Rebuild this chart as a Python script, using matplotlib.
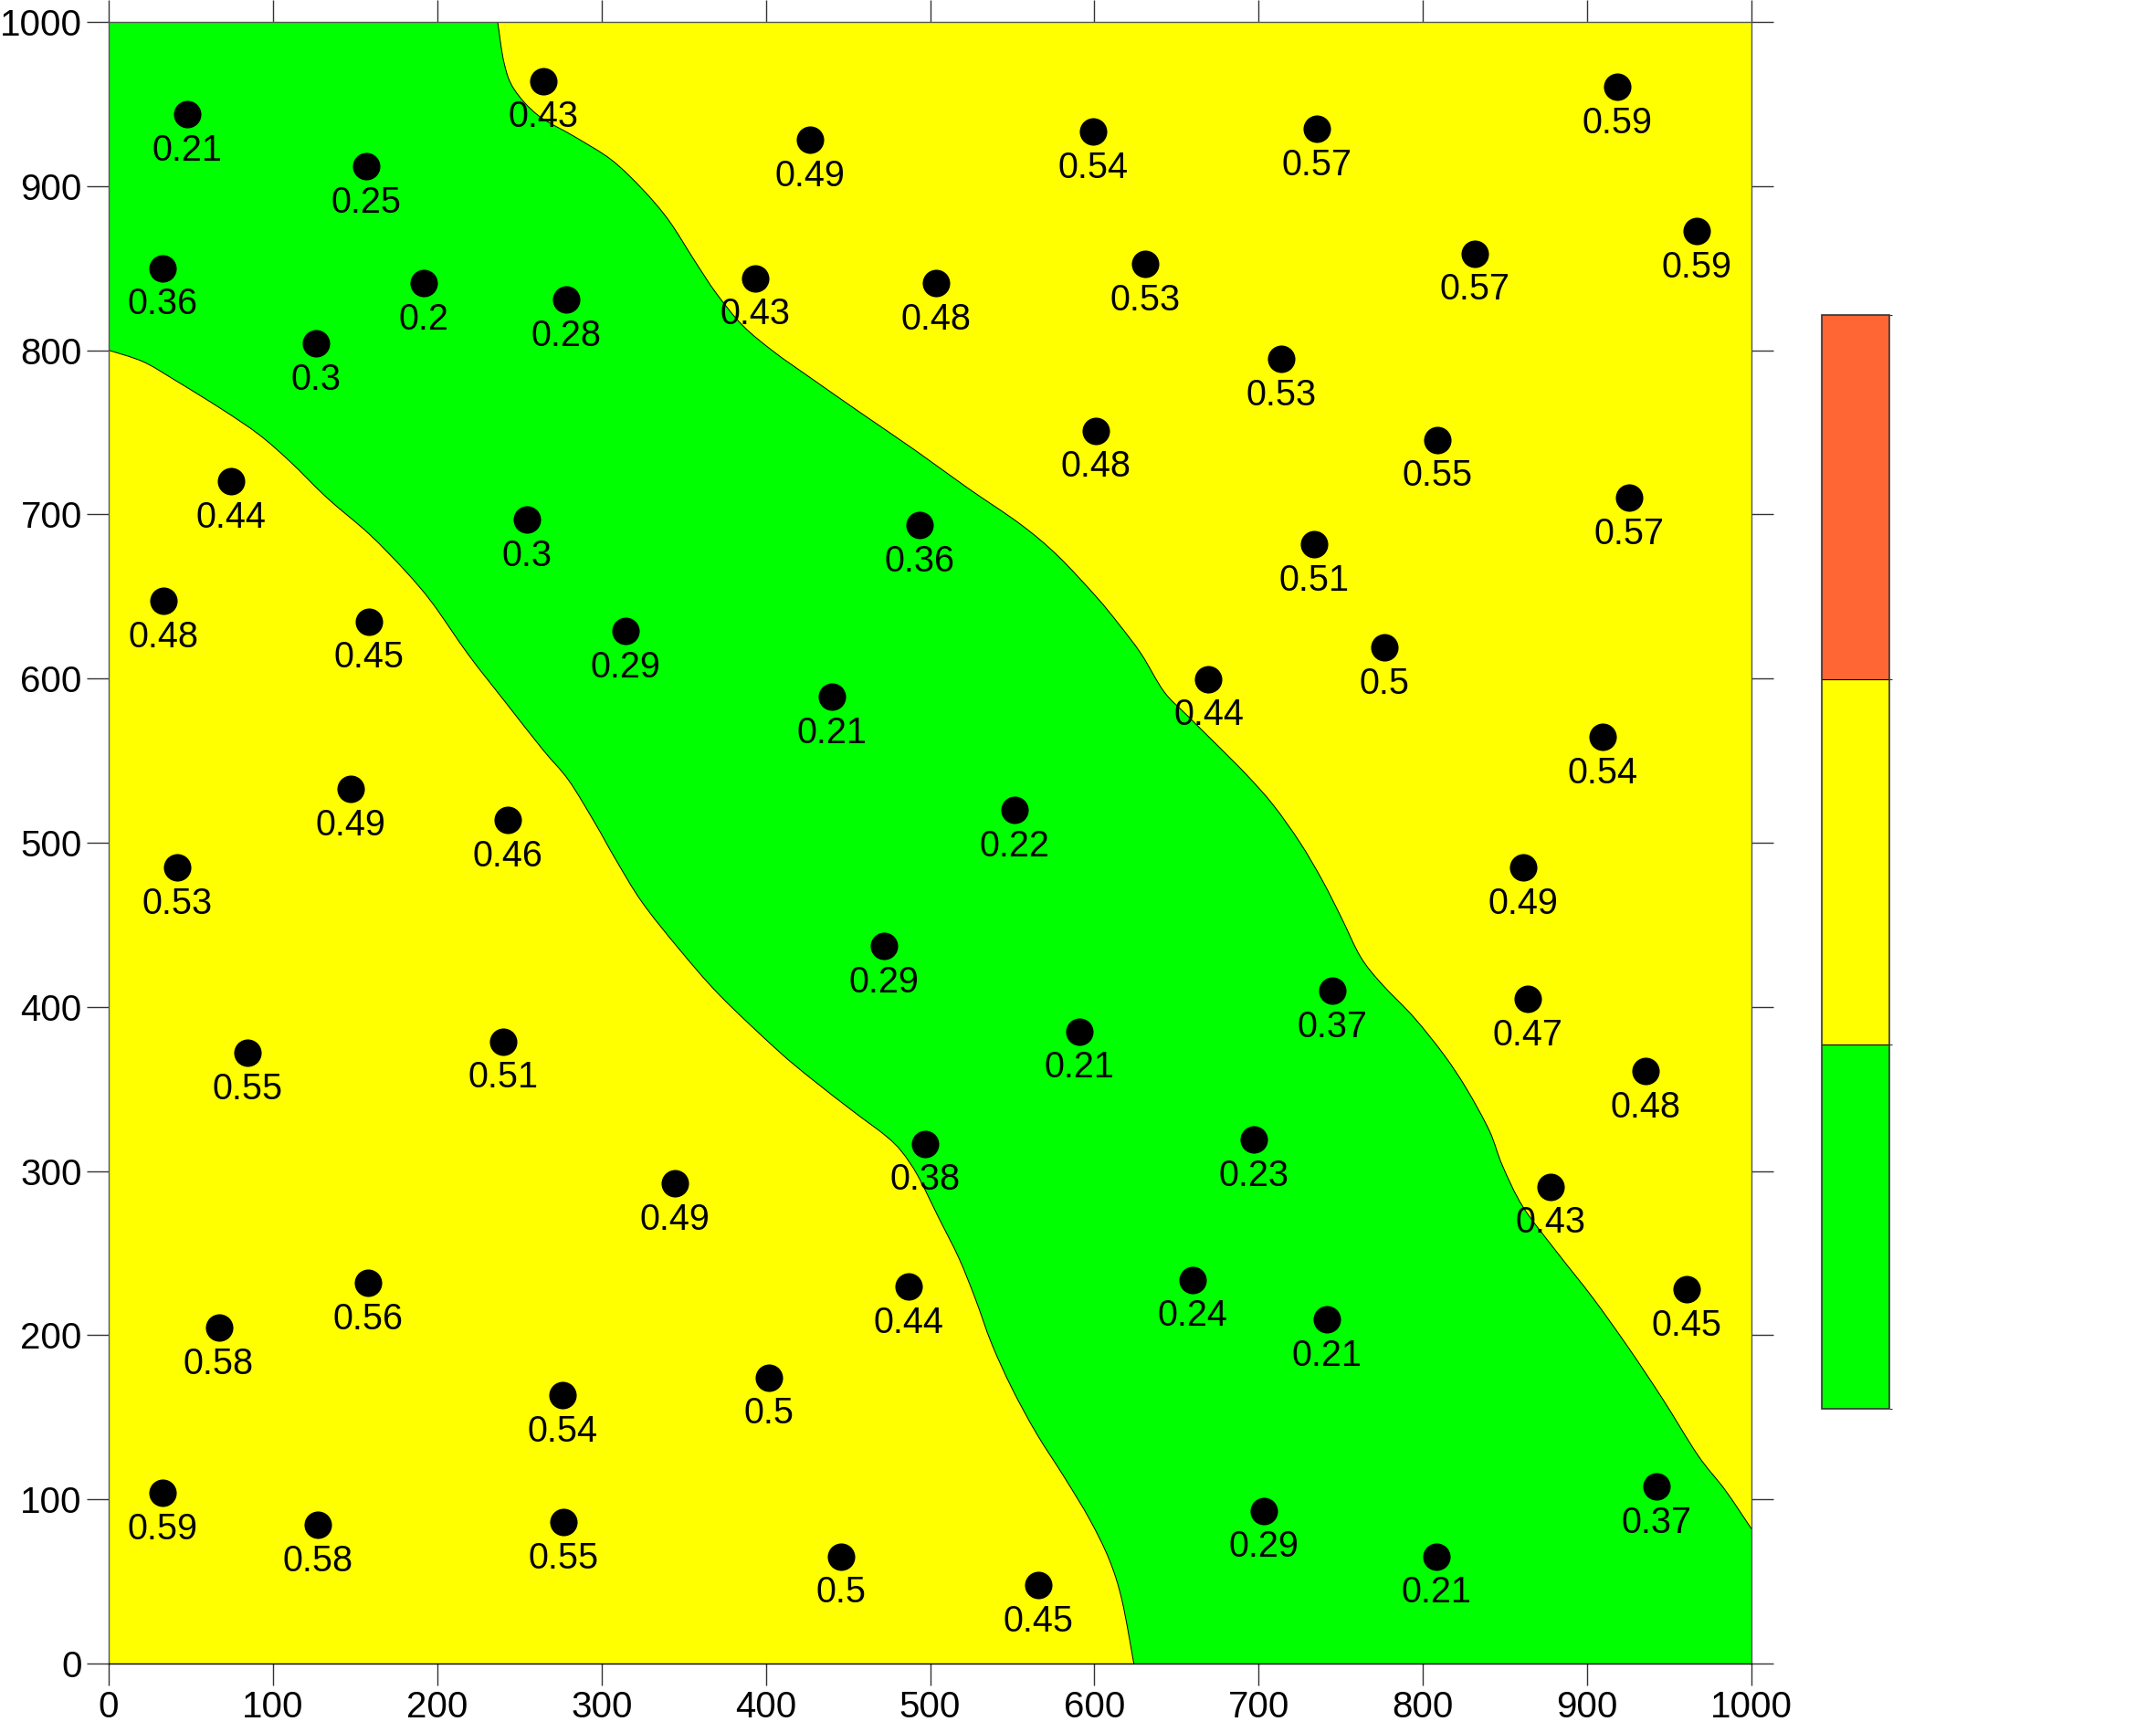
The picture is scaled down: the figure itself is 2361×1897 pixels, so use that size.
import matplotlib
matplotlib.use('Agg')
import matplotlib.pyplot as plt
from matplotlib.colors import ListedColormap, BoundaryNorm
from matplotlib.colorbar import ColorbarBase
from matplotlib.path import Path
from matplotlib.patches import PathPatch
import numpy as np

plt.rcParams['font.family'] = ['Liberation Sans', 'DejaVu Sans']

# sample points and measured values
pt_x = [47.7, 156.5, 32.6, 191.6, 126.4, 278.7, 264.4, 426.8, 393.3, 503.8,
        599.0, 631.0, 735.6, 918.0, 966.5, 831.8, 713.8, 600.8, 809.0, 925.5,
        733.9, 776.6, 669.5, 493.7, 254.4, 314.6, 74.5, 33.5, 158.2, 440.2,
        551.5, 909.6, 147.3, 242.7, 41.8, 861.0, 472.0, 744.8, 863.6, 590.8,
        84.5, 240.0, 935.6, 497.0, 697.0, 344.8, 877.8, 158.0, 67.0, 487.0,
        660.0, 741.4, 960.7, 401.7, 276.0, 32.6, 127.2, 277.0, 446.0, 565.7,
        703.0, 808.4, 942.0]
pt_y = [943.9, 912.0, 850.0, 840.9, 804.0, 830.8, 964.0, 928.0, 844.0, 841.0,
        933.0, 852.6, 934.7, 960.6, 872.7, 859.0, 794.8, 751.0, 745.4, 710.0,
        681.7, 619.0, 599.7, 693.5, 696.8, 629.0, 720.3, 647.4, 634.8, 588.8,
        520.0, 564.5, 532.7, 514.0, 485.0, 485.0, 437.0, 410.0, 405.0, 385.0,
        371.9, 379.0, 361.0, 316.6, 319.0, 292.3, 290.6, 232.0, 204.4, 229.5,
        233.7, 209.4, 227.8, 174.2, 163.3, 103.9, 84.6, 86.3, 65.3, 47.7,
        93.0, 65.3, 108.0]
pt_val = [0.21, 0.25, 0.36, 0.2, 0.3, 0.28, 0.43, 0.49, 0.43, 0.48,
          0.54, 0.53, 0.57, 0.59, 0.59, 0.57, 0.53, 0.48, 0.55, 0.57,
          0.51, 0.5, 0.44, 0.36, 0.3, 0.29, 0.44, 0.48, 0.45, 0.21,
          0.22, 0.54, 0.49, 0.46, 0.53, 0.49, 0.29, 0.37, 0.47, 0.21,
          0.55, 0.51, 0.48, 0.38, 0.23, 0.49, 0.43, 0.56, 0.58, 0.44,
          0.24, 0.21, 0.45, 0.5, 0.54, 0.59, 0.58, 0.55, 0.5, 0.45,
          0.29, 0.21, 0.37]

# 0.4 contour, upper-right branch (top edge -> right edge)
upper_x = [236.8, 240.7, 246.8, 261.5, 283.8, 306, 325, 341, 357, 370, 386, 405,
           427.5, 459, 491, 523, 555, 577.5, 601, 614.7, 628.5, 642.4, 656, 674.6,
           693, 709, 725.4, 739, 750.7, 762, 774.6, 794.5, 813, 826.7, 840.5,
           848.3, 861, 882, 903.5, 924.8, 946, 967.4, 984, 1000]
upper_y = [1000, 975, 959, 943, 930, 916, 898, 879, 854, 834.5, 815, 799,
           783, 761, 739, 716, 694, 675, 650, 633.4, 615, 592, 578, 559.6,
           541, 522.8, 499.7, 476.6, 453.6, 430.5, 414.3, 393.6, 370.5, 349.8, 324.4,
           303.5, 278, 250, 222.6, 192.8, 161, 126.8, 105.6, 82]

# 0.4 contour, lower-left branch (left edge -> bottom edge)
lower_x = [0, 21, 40, 69, 91.5, 110.6, 133, 158.6, 180.6, 197, 219, 241.5, 264,
           280, 296, 308.5, 324.5, 347, 372, 407, 428, 453, 472.8, 482.8, 492.7,
           505, 517.5, 527.5, 537.4, 549.8, 564.6, 582, 597, 609, 616.8, 624]
lower_y = [800, 793, 782, 764, 748.6, 732, 710, 688, 665.5, 646, 614.5, 585.6, 557,
           538, 512, 490, 464, 435.5, 407, 373.7, 356, 336.5, 321.6, 311.7, 296.8,
           272, 247, 222.3, 195, 167.7, 140.4, 113, 88, 63.4, 38.5, 0]

levels = [0.2, 0.4, 0.6, 0.8]
colors = ['#00FF00', '#FFFF00', '#FF6633']


def smooth_segments(xs, ys):
    # bezier control points (catmull-rom) so the contour is drawn as a smooth curve
    p = np.column_stack([xs, ys]).astype(float)
    ext = np.vstack([p[0], p, p[-1]])
    verts, codes = [], []
    for i in range(1, len(ext) - 2):
        c1 = ext[i] + (ext[i + 1] - ext[i - 1]) / 6
        c2 = ext[i + 1] - (ext[i + 2] - ext[i]) / 6
        verts += [c1, c2, ext[i + 1]]
        codes += [Path.CURVE4] * 3
    return verts, codes


up_v, up_c = smooth_segments(upper_x, upper_y)
lo_v, lo_c = smooth_segments(lower_x[::-1], lower_y[::-1])

fig = plt.figure(figsize=(23.61, 18.97), dpi=100)
ax = fig.add_axes([0.0504, 0.03954, 0.7620, 0.9478])

# yellow background, green band between the two 0.4 contours
ax.fill([0, 1000, 1000, 0], [0, 0, 1000, 1000], color=colors[1], lw=0, zorder=0)
band_v = [(0, 1000), (upper_x[0], upper_y[0])] + up_v + [(1000, 0), (lower_x[-1], lower_y[-1])] \
    + lo_v + [(0, 1000), (0, 1000)]
band_c = [Path.MOVETO, Path.LINETO] + up_c + [Path.LINETO, Path.LINETO] + lo_c \
    + [Path.LINETO, Path.CLOSEPOLY]
ax.add_patch(PathPatch(Path(band_v, band_c), facecolor=colors[0], lw=0, zorder=1))

up_line = Path([(upper_x[0], upper_y[0])] + up_v, [Path.MOVETO] + up_c)
lo_line = Path([(lower_x[-1], lower_y[-1])] + lo_v, [Path.MOVETO] + lo_c)
for pth in (up_line, lo_line):
    ax.add_patch(PathPatch(pth, facecolor='none', edgecolor='black', lw=0.7, zorder=2))

ax.scatter(pt_x, pt_y, s=470, c='black', lw=0, zorder=3, clip_on=False)
for x, y, v in zip(pt_x, pt_y, pt_val):
    ax.annotate(f"{v:g}", (x, y), xytext=(0, -36.5), textcoords='offset points',
                ha='center', va='baseline', fontsize=28.5, zorder=4)

ax.set_xlim(0, 1000)
ax.set_ylim(0, 1000)
ax.set_xticks(np.arange(0, 1001, 100))
ax.set_yticks(np.arange(0, 1001, 100))
ax.tick_params(which='both', direction='out', length=17, width=1, color='#333333',
               labelsize=29, pad=4, top=True, right=True)
for s in ax.spines.values():
    s.set_color('#555555')
    s.set_linewidth(1)
ax.spines['bottom'].set_color('black')

cax = fig.add_axes([0.845, 0.1866, 0.0313, 0.6315])
cb = ColorbarBase(cax, cmap=ListedColormap(colors), norm=BoundaryNorm(levels, 3),
                  boundaries=levels, drawedges=True, orientation='vertical')
cb.set_ticks([])
cb.outline.set_color('#333333')
cb.outline.set_linewidth(1.2)
cb.dividers.set_color('black')
cb.dividers.set_linewidth(0.8)

fig.savefig('out.png', dpi=100)
